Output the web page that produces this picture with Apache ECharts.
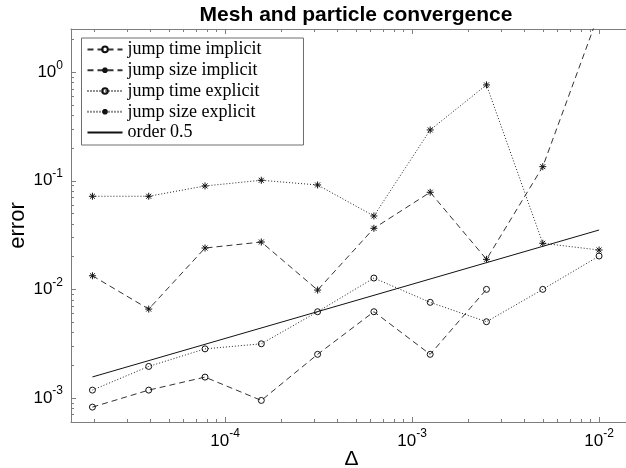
<!DOCTYPE html>
<html><head><meta charset="utf-8">
<script src="https://cdn.jsdelivr.net/npm/echarts@6/dist/echarts.min.js"></script>
<style>html,body{margin:0;padding:0;background:#fff}#c{width:626px;height:468px}</style>
</head><body><div id="c"></div>
<script>
// ---- data ----
const deltas = [1.953125e-5, 3.90625e-5, 7.8125e-5, 1.5625e-4, 3.125e-4, 6.25e-4, 1.25e-3, 2.5e-3, 5e-3, 1e-2];
const jumpTimeImplicit = [0.000823, 0.00118, 0.001555, 0.000948, 0.00252, 0.00622, 0.00252, 0.0100, null, null];
const jumpSizeImplicit = [0.01334, 0.00658, 0.02402, 0.02729, 0.00985, 0.0365, 0.07834, 0.0189, 0.1349, 3.5];
const jumpTimeExplicit = [0.00118, 0.00195, 0.00283, 0.00315, 0.00622, 0.01271, 0.00759, 0.00503, 0.0100, 0.02027];
const jumpSizeExplicit = [0.0720, 0.0720, 0.0896, 0.1011, 0.0915, 0.0474, 0.2939, 0.7637, 0.02655, 0.02303];
const orderDeltas = [1.953125e-5, 1e-2];
const orderValues = [0.00156, 0.0352];
const seriesNames = ['jump time implicit', 'jump size implicit', 'jump time explicit', 'jump size explicit', 'order 0.5'];
const xMajorTicks = [1e-4, 1e-3, 1e-2];
const yMajorTicks = [1e-3, 1e-2, 1e-1, 1];
const xMinorTicks = [2e-5,3e-5,4e-5,5e-5,6e-5,7e-5,8e-5,9e-5,2e-4,3e-4,4e-4,5e-4,6e-4,7e-4,8e-4,9e-4,2e-3,3e-3,4e-3,5e-3,6e-3,7e-3,8e-3,9e-3];
const yMinorTicks = [7e-4,8e-4,9e-4,2e-3,3e-3,4e-3,5e-3,6e-3,7e-3,8e-3,9e-3,2e-2,3e-2,4e-2,5e-2,6e-2,7e-2,8e-2,9e-2,0.2,0.3,0.4,0.5,0.6,0.7,0.8,0.9,2];
const xRange = [1.5e-5, 1.5e-2];
const yRange = [6e-4, 2.5];

// ---- styling ----
const AX = '#7d7d7d';
const SANS = 'Liberation Sans';
const SERIF = 'Liberation Serif';
const ASTER = 'path://M0,-1L0,1M-1,0L1,0M-0.71,-0.71L0.71,0.71M-0.71,0.71L0.71,-0.71';

function pairs(xs, ys) { return xs.map((x, i) => [x, ys[i]]); }
function supFmt(v) {
  const e = Math.round(Math.log10(v));
  return '{b|10}{s|' + e + '}';
}
const rich = {
  b: { fontFamily: SANS, fontSize: 17, color: '#000', lineHeight: 26, verticalAlign: 'middle' },
  s: { fontFamily: SANS, fontSize: 12, color: '#000', lineHeight: 12, verticalAlign: 'top' }
};

function mkX(pos, major, withLabels) {
  return {
    type: 'log', logBase: 10, min: xRange[0], max: xRange[1], position: pos, gridIndex: 0,
    axisLine: { show: major, lineStyle: { color: AX, width: 1 } },
    axisTick: { show: true, inside: true, length: major ? 5 : 3, lineStyle: { color: AX },
      customValues: major ? xMajorTicks : xMinorTicks },
    axisLabel: { show: withLabels, customValues: xMajorTicks, margin: 6, formatter: supFmt, rich: rich },
    splitLine: { show: false }, minorTick: { show: false },
    name: withLabels ? 'Δ' : '', nameLocation: 'middle', nameGap: 27, nameMoveOverlap: false,
    nameTextStyle: { fontFamily: SANS, fontSize: 21, color: '#000' }
  };
}
function mkY(pos, major, withLabels) {
  return {
    type: 'log', logBase: 10, min: yRange[0], max: yRange[1], position: pos, gridIndex: 0,
    axisLine: { show: major, lineStyle: { color: AX, width: 1 } },
    axisTick: { show: true, inside: true, length: major ? 5 : 3, lineStyle: { color: AX },
      customValues: major ? yMajorTicks : yMinorTicks },
    axisLabel: { show: withLabels, customValues: yMajorTicks, margin: 8, formatter: supFmt, rich: rich },
    splitLine: { show: false }, minorTick: { show: false },
    name: withLabels ? 'error' : '', nameLocation: 'middle', nameGap: 42, nameRotate: 90, nameMoveOverlap: false,
    nameTextStyle: { fontFamily: SANS, fontSize: 22, color: '#000' }
  };
}

function lineSeries(name, data, dash, symbol, color) {
  return {
    name: name, type: 'line', xAxisIndex: 0, yAxisIndex: 0, data: data,
    symbol: symbol, symbolSize: symbol === 'none' ? 0 : (symbol === 'circle' ? 6 : 7),
    showSymbol: symbol !== 'none', connectNulls: false, clip: true, animation: false,
    lineStyle: { color: color, width: 1, type: dash },
    itemStyle: { color: 'rgba(0,0,0,0)', borderColor: '#111', borderWidth: 1 },
    emphasis: { disabled: true }
  };
}

const chart = echarts.init(document.getElementById('c'), null, { renderer: 'canvas' });
chart.setOption({
  animation: false,
  backgroundColor: '#fff',
  title: {
    text: 'Mesh and particle convergence', left: 351, top: 0, textAlign: 'center',
    textStyle: { fontFamily: SANS, fontSize: 21, fontWeight: 'bold', color: '#000' }
  },
  grid: { left: 71, top: 29, right: -6, bottom: 46, containLabel: false, outerBoundsMode: 'none' },
  legend: {
    orient: 'vertical', left: 81.5, top: 38, padding: [1, 42, 2, 5],
    itemWidth: 35, itemHeight: 7, itemGap: 0,
    borderColor: '#6e6e6e', borderWidth: 1, backgroundColor: '#fff',
    textStyle: { fontFamily: SERIF, fontSize: 18, color: '#000', lineHeight: 20.8 },
    data: seriesNames.slice(0, 4).concat([{ name: seriesNames[4], itemStyle: { color: 'rgba(0,0,0,0)', borderWidth: 0, borderColor: 'rgba(0,0,0,0)' } }])
  },
  xAxis: [mkX('bottom', true, true), mkX('bottom', false, false), mkX('top', true, false), mkX('top', false, false)],
  yAxis: [mkY('left', true, true), mkY('left', false, false), mkY('right', true, false), mkY('right', false, false)],
  series: [
    lineSeries(seriesNames[0], pairs(deltas, jumpTimeImplicit), [6, 4], 'circle', '#333'),
    lineSeries(seriesNames[1], pairs(deltas, jumpSizeImplicit), [6, 4], ASTER, '#333'),
    lineSeries(seriesNames[2], pairs(deltas, jumpTimeExplicit), [1, 2], 'circle', '#222'),
    lineSeries(seriesNames[3], pairs(deltas, jumpSizeExplicit), [1, 2], ASTER, '#222'),
    lineSeries(seriesNames[4], pairs(orderDeltas, orderValues), 'solid', 'none', '#111')
  ]
});
</script>
</body></html>
